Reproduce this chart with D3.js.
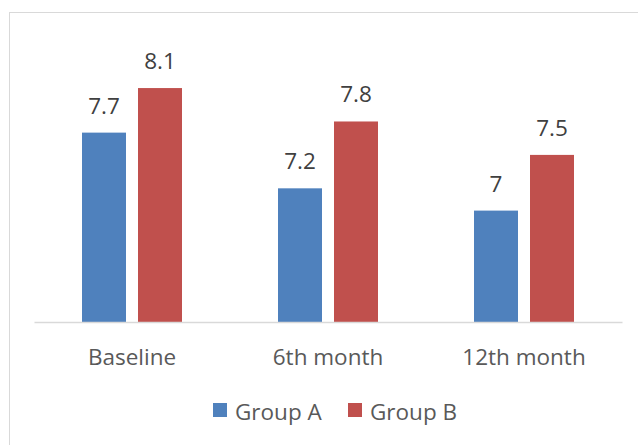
<!DOCTYPE html>
<html>
<head>
<meta charset="utf-8">
<script src="https://cdn.jsdelivr.net/npm/d3@7"></script>
<style>
  body { margin: 0; background: #fff; }
  text { font-family: "Open Sans", "Noto Sans", sans-serif; }
</style>
</head>
<body>
<svg width="638" height="445"></svg>
<script>
const categories = ["Baseline", "6th month", "12th month"];
const seriesNames = ["Group A", "Group B"];
const groupA = [7.7, 7.2, 7];
const groupB = [8.1, 7.8, 7.5];
const colors = ["#4f81bd", "#c0504d"];

const chart = d3.select("svg");

// chart frame (right and bottom edges fall outside the picture)
chart.append("rect")
     .attr("x", 9.5).attr("y", 12.5)
     .attr("width", 700).attr("height", 500)
     .attr("fill", "none")
     .attr("stroke", "#d9d9d9");

const PLOT_L = 34, PLOT_R = 622, PLOT_T = 43.5, PLOT_B = 322;
const FS = 22.5;

const xScale = d3.scaleBand()
                 .domain(categories)
                 .range([PLOT_L, PLOT_R]);

const inner = d3.scaleBand()
                .domain(seriesNames)
                .range([xScale.bandwidth() / 2 - 50, xScale.bandwidth() / 2 + 50])
                .paddingInner(12 / 56);

const yScale = d3.scaleLinear()
                 .domain([6, 8.5])
                 .range([PLOT_B, PLOT_T]);

const rows = categories.map((c, i) => ({
    cat: c,
    vals: [{ s: seriesNames[0], v: groupA[i] }, { s: seriesNames[1], v: groupB[i] }]
}));

const groups = chart.selectAll("g.cat")
                    .data(rows)
                    .enter()
                    .append("g")
                    .attr("class", "cat")
                    .attr("transform", (d) => `translate(${xScale(d.cat)},0)`);

groups.selectAll("rect")
      .data((d) => d.vals)
      .enter()
      .append("rect")
      .attr("x", (d) => inner(d.s))
      .attr("width", inner.bandwidth())
      .attr("y", (d) => yScale(d.v))
      .attr("height", (d) => PLOT_B - yScale(d.v))
      .attr("fill", (d, i) => colors[i]);

groups.selectAll("text.val")
      .data((d) => d.vals)
      .enter()
      .append("text")
      .attr("class", "val")
      .attr("x", (d) => inner(d.s) + inner.bandwidth() / 2)
      .attr("y", (d) => yScale(d.v) - 19)
      .attr("text-anchor", "middle")
      .attr("font-size", FS)
      .attr("fill", "#404040")
      .text((d) => d.v);

// x axis
const xAxis = chart.append("g")
                   .attr("transform", `translate(0,${PLOT_B})`)
                   .call(d3.axisBottom(xScale).tickSize(0));
xAxis.select(".domain").attr("stroke", "#d9d9d9").attr("stroke-width", 1.5);
xAxis.selectAll("text")
     .attr("y", 43)
     .attr("dy", null)
     .attr("font-size", FS)
     .attr("fill", "#595959")
     .style("font-family", "'Open Sans', sans-serif");

// legend
const legendX = [213, 348];
const legend = chart.selectAll("g.leg")
                    .data(seriesNames)
                    .enter()
                    .append("g")
                    .attr("class", "leg")
                    .attr("transform", (d, i) => `translate(${legendX[i]},403)`);
legend.append("rect")
      .attr("width", 14).attr("height", 14)
      .attr("fill", (d, i) => colors[i]);
legend.append("text")
      .attr("x", 22).attr("y", 17)
      .attr("font-size", FS)
      .attr("fill", "#595959")
      .text((d) => d);
</script>
</body>
</html>
